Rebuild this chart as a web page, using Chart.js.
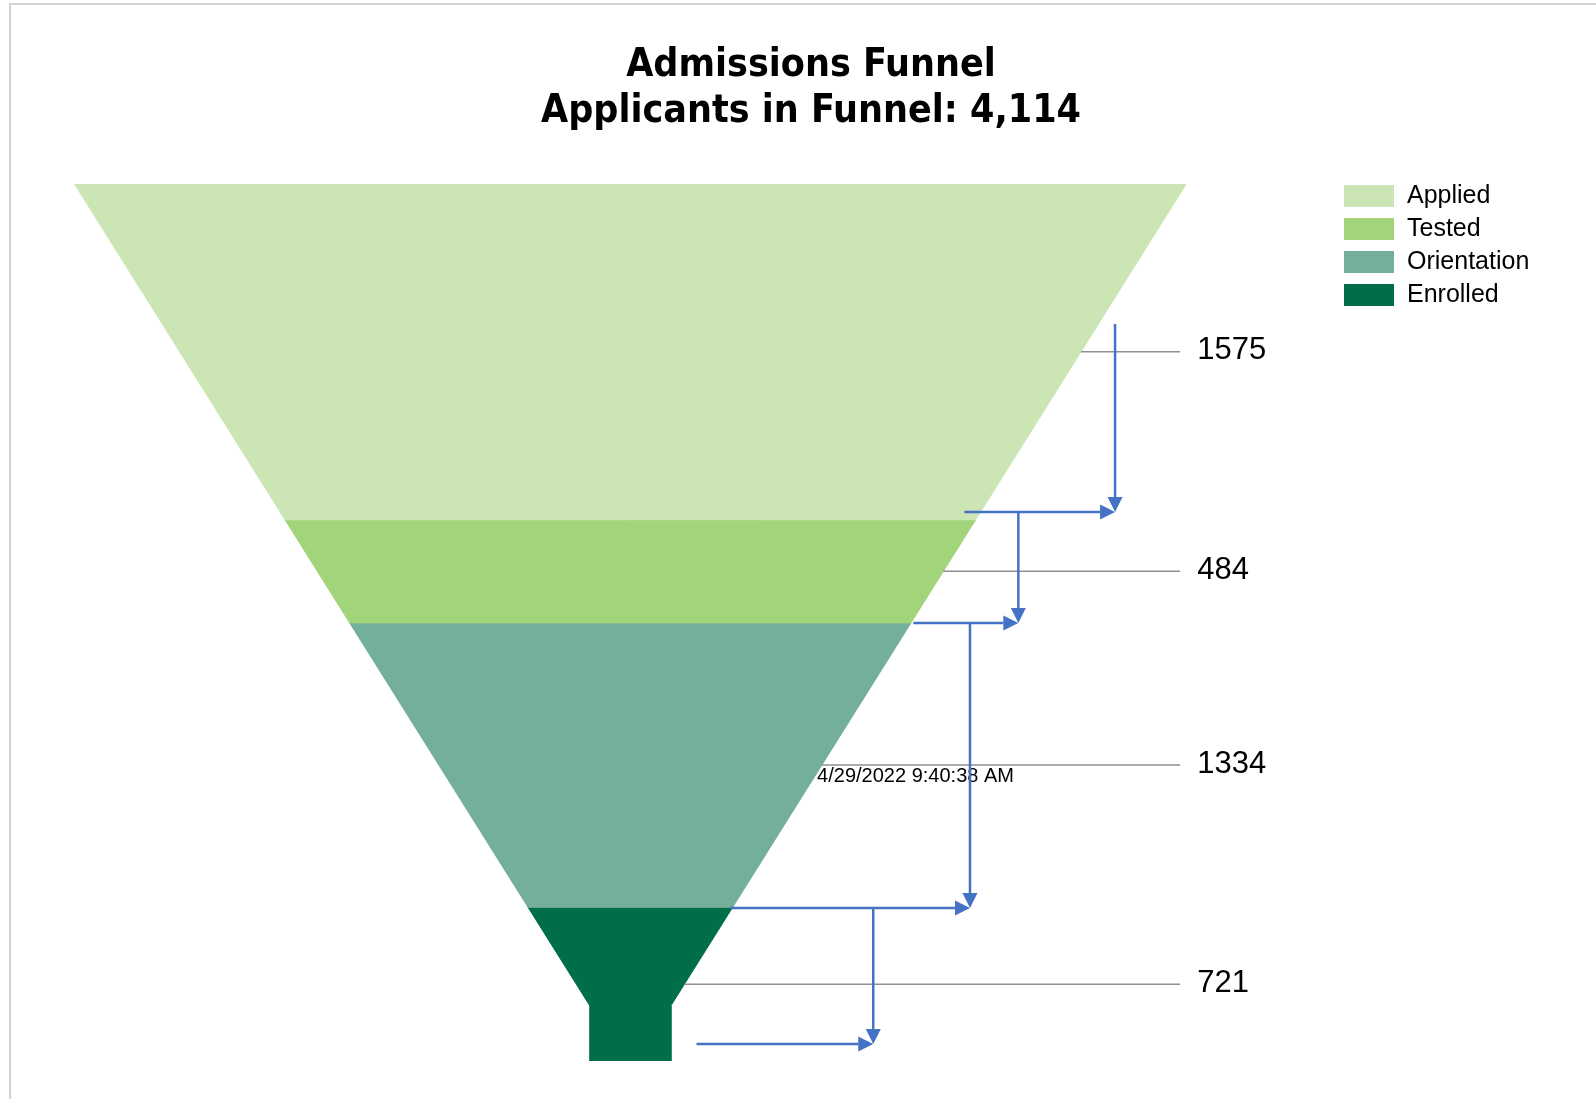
<!DOCTYPE html>
<html>
<head>
<meta charset="utf-8">
<title>Admissions Funnel</title>
<script src="https://cdn.jsdelivr.net/npm/chart.js@4.4.1/dist/chart.umd.min.js"></script>
<style>
  html, body { margin: 0; padding: 0; background: #ffffff; }
  #frame { position: absolute; left: 9px; top: 3px; right: 0; bottom: 0;
           border-left: 2px solid #d3d3d3; border-top: 2px solid #d3d3d3; }
  #wrap { position: absolute; left: 0; top: 0; width: 1596px; height: 1099px; }
</style>
</head>
<body>
<div id="frame"></div>
<div id="wrap"><canvas id="funnel" width="1596" height="1099"></canvas></div>
<script>
// ---- data ----
const stages = ['Applied', 'Tested', 'Orientation', 'Enrolled'];
const applicants = [1575, 484, 1334, 721];
const stageColors = ['#CBE6B4', '#A2D47A', '#73AF99', '#006E47'];
const chartTitle = 'Admissions Funnel';
const totalCaption = 'Applicants in Funnel: ';
const reportTimestamp = '4/29/2022 9:40:38 AM';

// ---- funnel shape (fractions of the top half-width / of the total height) ----
const NECK_WIDTH = 0.073;
const NECK_HEIGHT = 0.063;
const LEADER_END = 0.989;   // x (in half-widths) where value leader lines stop
const LABEL_X = 1.020;      // x where value labels start
const STAMP_POS = { x: 0.336, y: 2777 };

// flow arrows: a drop at x from one level to the next, and a run in from runFrom
const flowArrows = [
  { x: 0.872, from: 657,  to: 1539, runFrom: 0.601 },
  { x: 0.698, from: 1539, to: 2059, runFrom: 0.509 },
  { x: 0.611, from: 2059, to: 3396, runFrom: 0.180 },
  { x: 0.437, from: 3396, to: 4034, runFrom: 0.119 }
];

const total = applicants.reduce((a, b) => a + b, 0);
const bands = [];
let running = 0;
applicants.forEach(v => { bands.push([running, running + v]); running += v; });
const neckStart = total * (1 - NECK_HEIGHT);

function halfWidth(v) {
  return v >= neckStart ? NECK_WIDTH : 1 - (1 - NECK_WIDTH) * v / neckStart;
}

// closed outline of one funnel band between cumulative values a and b
function bandOutline(a, b) {
  const right = [{ x: halfWidth(a), y: a }];
  if (a < neckStart && b > neckStart) right.push({ x: NECK_WIDTH, y: neckStart });
  right.push({ x: halfWidth(b), y: b });
  const left = right.slice().reverse().map(p => ({ x: -p.x, y: p.y }));
  const pts = right.concat(left);
  pts.push({ ...pts[0] });
  return pts;
}

const bandSets = stages.map((name, i) => ({
  label: name,
  data: bandOutline(bands[i][0], bands[i][1]),
  showLine: true,
  fill: 'shape',
  backgroundColor: stageColors[i],
  borderColor: stageColors[i],
  borderWidth: 1,
  pointRadius: 0,
  tension: 0,
  order: 2
}));

const leaderSets = stages.map((name, i) => {
  const mid = (bands[i][0] + bands[i][1]) / 2;
  return {
    label: name + ' leader',
    data: [{ x: halfWidth(mid), y: mid }, { x: LEADER_END, y: mid }],
    showLine: true,
    fill: false,
    borderColor: '#8f8f8f',
    borderWidth: 1.5,
    pointRadius: 0,
    order: 1
  };
});

const LABEL_FONT = '"Liberation Sans", Arial, sans-serif';

function arrow(ctx, x0, y0, x1, y1) {
  const head = 15, half = 7.5;
  const ang = Math.atan2(y1 - y0, x1 - x0);
  const bx = x1 - Math.cos(ang) * head, by = y1 - Math.sin(ang) * head;
  ctx.beginPath();
  ctx.moveTo(x0, y0);
  ctx.lineTo(bx, by);
  ctx.stroke();
  ctx.beginPath();
  ctx.moveTo(x1, y1);
  ctx.lineTo(bx - Math.sin(ang) * half, by + Math.cos(ang) * half);
  ctx.lineTo(bx + Math.sin(ang) * half, by - Math.cos(ang) * half);
  ctx.closePath();
  ctx.fill();
}

const funnelOverlay = {
  id: 'funnelOverlay',
  afterDatasetsDraw(chart) {
    const { ctx, scales: { x, y } } = chart;
    ctx.save();

    // value labels beside each band
    ctx.fillStyle = '#000000';
    ctx.textAlign = 'left';
    ctx.textBaseline = 'middle';
    ctx.font = '31px ' + LABEL_FONT;
    bands.forEach(([a, b], i) => {
      ctx.fillText(String(applicants[i]), x.getPixelForValue(LABEL_X), y.getPixelForValue((a + b) / 2) - 1);
    });

    // run timestamp
    ctx.font = '20px ' + LABEL_FONT;
    ctx.fillText(reportTimestamp, x.getPixelForValue(STAMP_POS.x), y.getPixelForValue(STAMP_POS.y));

    // legend
    const lg = { left: 1344, top: 185, w: 50, h: 22, step: 33, gap: 13 };
    ctx.font = '25px ' + LABEL_FONT;
    stages.forEach((name, i) => {
      const top = lg.top + i * lg.step;
      ctx.fillStyle = stageColors[i];
      ctx.fillRect(lg.left, top, lg.w, lg.h);
      ctx.fillStyle = '#000000';
      ctx.fillText(name, lg.left + lg.w + lg.gap, top + lg.h / 2);
    });

    // flow arrows
    ctx.strokeStyle = '#4472C4';
    ctx.fillStyle = '#4472C4';
    ctx.lineWidth = 2.5;
    flowArrows.forEach(a => {
      const px = x.getPixelForValue(a.x);
      const pyTo = y.getPixelForValue(a.to);
      arrow(ctx, px, y.getPixelForValue(a.from), px, pyTo);
      arrow(ctx, x.getPixelForValue(a.runFrom), pyTo, px, pyTo);
    });

    ctx.restore();
  }
};

new Chart(document.getElementById('funnel'), {
  type: 'scatter',
  data: { datasets: bandSets.concat(leaderSets) },
  options: {
    responsive: false,
    animation: false,
    devicePixelRatio: 1,
    layout: { padding: { left: 30, right: 4, top: 0, bottom: 38 } },
    plugins: {
      legend: { display: false },
      tooltip: { enabled: false },
      title: {
        display: true,
        text: [chartTitle, totalCaption + total.toLocaleString('en-US')],
        color: '#000000',
        font: { family: "'DejaVu Sans Condensed', 'DejaVu Sans', sans-serif", size: 39, weight: 'bold', lineHeight: '46px' },
        padding: { top: 43, bottom: 49 }
      }
    },
    scales: {
      x: { type: 'linear', display: false, min: -1.08, max: 1.73 },
      y: { type: 'linear', display: false, min: 0, max: total, reverse: true }
    }
  },
  plugins: [funnelOverlay]
});
</script>
</body>
</html>
